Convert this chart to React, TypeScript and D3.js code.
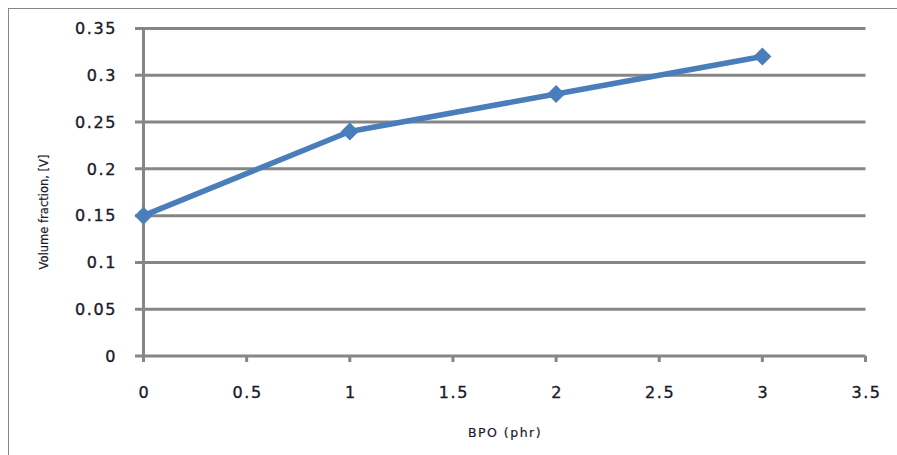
import React from "react";
import * as d3 from "d3";

const bpo = [0, 1, 2, 3];
const volumeFraction = [0.15, 0.24, 0.28, 0.32];
const xTicks = [0, 0.5, 1, 1.5, 2, 2.5, 3, 3.5];
const yTicks = [0, 0.05, 0.1, 0.15, 0.2, 0.25, 0.3, 0.35];
const xTitle = "BPO (phr)";
const yTitle = "Volume fraction, [V]";

export default function App() {
  const W = 897, H = 455;
  const x = d3.scaleLinear().domain([0, 3.5]).range([143.5, 865.5]);
  const y = d3.scaleLinear().domain([0, 0.35]).range([356, 28.5]);
  const pts = bpo.map((b, i) => [x(b), y(volumeFraction[i])] as [number, number]);
  const line = d3.line()(pts) || "";
  const grid = "#868686";
  const blue = "#4a7ebb";
  const font = "'DejaVu Sans', Verdana, sans-serif";
  const d = 9;
  const txt = "#1a1a2a";
  return (
    <svg width={W} height={H} style={{ position: "absolute", left: 0, top: 0 }}>
      <rect x={0} y={0} width={W} height={H} fill="#fff" />
      <rect x={8.5} y={8.5} width={W + 20} height={H + 20} fill="none" stroke="#868686" strokeWidth={1} />
      {yTicks.map((t) => (
        <g key={"y" + t}>
          <line x1={135} x2={x(3.5)} y1={y(t)} y2={y(t)} stroke={grid} strokeWidth={3} />
          <text x={117} y={y(t)} dy="0.36em" textAnchor="end" fontFamily={font} fontSize={16} letterSpacing={1.6} fill={txt} stroke={txt} strokeWidth={0.35}>
            {String(t)}
          </text>
        </g>
      ))}
      <line x1={x(0)} x2={x(0)} y1={y(0.35) - 1.5} y2={y(0) + 6} stroke={grid} strokeWidth={3} />
      {xTicks.map((t) => (
        <g key={"x" + t}>
          <line x1={x(t)} x2={x(t)} y1={y(0)} y2={y(0) + 6} stroke={grid} strokeWidth={3} />
          <text x={x(t) + 1} y={398} textAnchor="middle" fontFamily={font} fontSize={16} letterSpacing={1.6} fill={txt} stroke={txt} strokeWidth={0.35}>
            {String(t)}
          </text>
        </g>
      ))}
      <path d={line} fill="none" stroke={blue} strokeWidth={5.5} strokeLinejoin="round" />
      {pts.map(([px, py], i) => (
        <path key={"m" + i} d={`M${px},${py - d}L${px + d},${py}L${px},${py + d}L${px - d},${py}Z`} fill={blue} />
      ))}
      <text x={505} y={437} textAnchor="middle" fontFamily={font} fontSize={12.5} letterSpacing={1.5} fill={txt} stroke={txt} strokeWidth={0.2}>
        {xTitle}
      </text>
      <text transform={`translate(48,212) rotate(-90)`} textAnchor="middle" fontFamily={font} fontSize={11.5} fill={txt} stroke={txt} strokeWidth={0.2}>
        {yTitle}
      </text>
    </svg>
  );
}
